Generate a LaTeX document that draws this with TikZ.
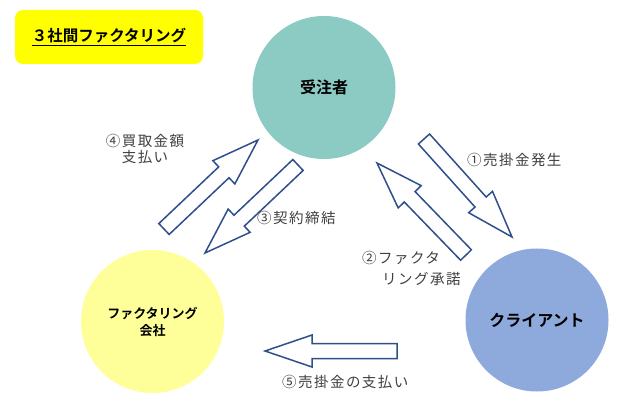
\documentclass[tikz,border=0pt]{standalone}
\usepackage{fontspec}
\setmainfont{Noto Sans CJK JP}[BoldFont={Noto Sans CJK JP Bold}]
\newfontfamily\lblfont{Noto Sans CJK JP}[LetterSpace=10]
\usetikzlibrary{calc}
\definecolor{tealc}{HTML}{8CCBC3}
\definecolor{yellowc}{HTML}{FFFF99}
\definecolor{bluec}{HTML}{8EA9DB}
\definecolor{titlec}{HTML}{FFFF00}
\definecolor{arrowc}{HTML}{2F4F8C}
\definecolor{labelc}{HTML}{404040}
\newcommand\blkarrow[3]{%
  \coordinate (#1h) at ($(#3)!47pt!(#2)$);
  \draw[blockarrow] ($(#2)!7.5pt!90:(#3)$) -- ($(#1h)!7.5pt!90:(#3)$) -- ($(#1h)!16pt!90:(#3)$) -- (#3)
    -- ($(#1h)!16pt!-90:(#3)$) -- ($(#1h)!7.5pt!-90:(#3)$) -- ($(#2)!7.5pt!-90:(#3)$) -- cycle;
}
\tikzset{
  party/.style={circle, minimum size=143pt, inner sep=0pt, draw=none, align=center, font=\bfseries\fontsize{16}{18}\selectfont},
  blockarrow/.style={draw=arrowc, fill=white, line width=1.5pt, line join=miter},
  lbl/.style={text=labelc, font=\lblfont\fontsize{14.5}{15.5}\selectfont, inner sep=0pt},
}
\begin{document}
\begin{tikzpicture}[x=1pt,y=-1pt]
\useasboundingbox (0,0) rectangle (640,414);
\fill[white] (0,0) rectangle (640,414);
% title
\node[fill=titlec, rounded corners=8pt, minimum width=188pt, minimum height=54pt, inner sep=0pt,
  font=\bfseries\fontsize{15.5}{17}\selectfont] (title) at (109,37) {\underline{３社間ファクタリング}};
% parties
\node[party, fill=tealc] (juchu) at (324,87.5) {受注者};
\node[party, fill=yellowc, font=\bfseries\fontsize{13}{17}\selectfont] (fact) at (152.5,321.5) {ファクタリング\\会社};
\node[party, fill=bluec] (client) at (537,320) {クライアント};
% arrow end points
\coordinate (a4s) at (164,229); \coordinate (a4e) at (258,140);
\coordinate (a3s) at (298,165); \coordinate (a3e) at (205,253);
\coordinate (a1s) at (424,139); \coordinate (a1e) at (512,237);
\coordinate (a2s) at (466,255); \coordinate (a2e) at (377,163);
\coordinate (a5s) at (397,351); \coordinate (a5e) at (265,351);
\blkarrow{a4}{a4s}{a4e}
\blkarrow{a3}{a3s}{a3e}
\blkarrow{a1}{a1s}{a1e}
\blkarrow{a2}{a2s}{a2e}
\blkarrow{a5}{a5s}{a5e}
% labels
\node[lbl, align=center] (l4) at (145,149) {④買取金額\\支払い};
\node[lbl, anchor=west] (l3) at (257,218) {③契約締結};
\node[lbl, anchor=west] (l1) at (467,160) {①売掛金発生};
\node[lbl, anchor=west] (l2a) at (362,258) {②ファクタ};
\node[lbl, anchor=west] (l2b) at (382,279) {リング承諾};
\node[lbl, anchor=west] (l5) at (282,382) {⑤売掛金の支払い};
\end{tikzpicture}
\end{document}
